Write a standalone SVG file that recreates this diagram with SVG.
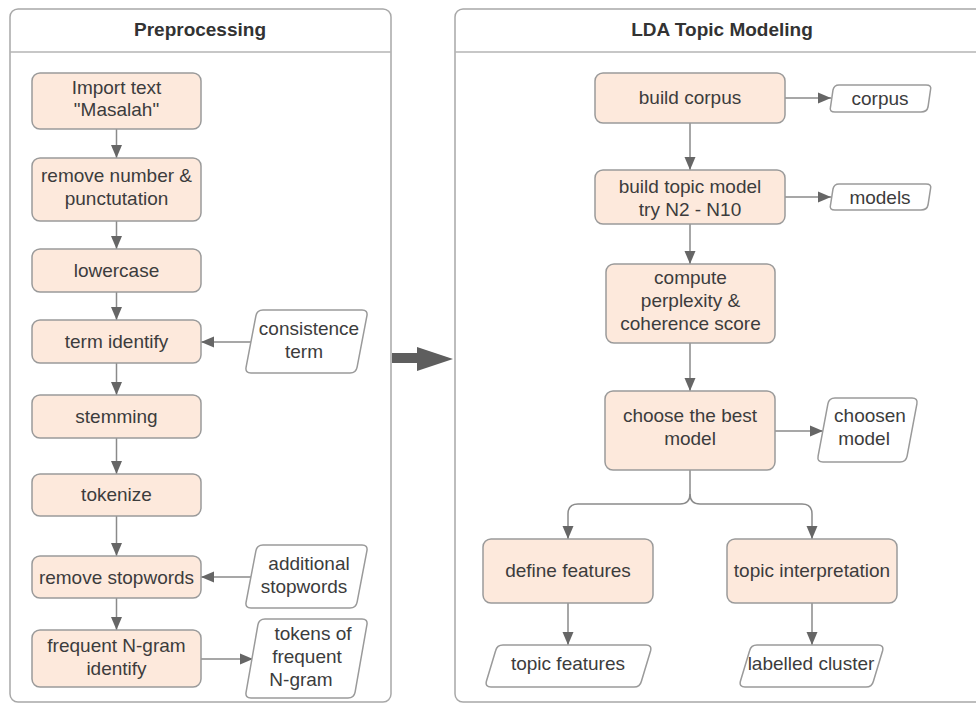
<svg xmlns="http://www.w3.org/2000/svg" width="976" height="704" viewBox="0 0 976 704">
<defs>
<style>
.panel{fill:#fff;stroke:#a8a8a8;stroke-width:1.5}
.hdr{stroke:#b4b4b4;stroke-width:1.5}
.title{font-family:"Liberation Sans",Arial,sans-serif;font-size:19px;font-weight:bold;fill:#333;text-anchor:middle}
.proc{fill:#fde9dc;stroke:#9a9a9a;stroke-width:1.5}
.data{fill:#fff;stroke:#9a9a9a;stroke-width:1.5}
.t{font-family:"Liberation Sans",Arial,sans-serif;font-size:19px;fill:#3c3c3c;text-anchor:middle}
.c{fill:none;stroke:#8a8a8a;stroke-width:1.5}
</style>
<marker id="ah" markerUnits="userSpaceOnUse" markerWidth="13" markerHeight="12" refX="13" refY="6" orient="auto">
<path d="M0,0.5 L13,6 L0,11.5 Z" fill="#666"/>
</marker>
</defs>
<rect width="976" height="704" fill="#fff"/>

<g id="panel-preprocessing">
<rect class="panel" x="10" y="9" width="381" height="693" rx="8"/>
<line class="hdr" x1="10" y1="52" x2="391" y2="52"/>
<text class="title" x="200" y="36">Preprocessing</text>
</g>
<g id="panel-lda">
<rect class="panel" x="455" y="9" width="540" height="693" rx="8"/>
<line class="hdr" x1="455" y1="52" x2="976" y2="52"/>
<text class="title" x="722" y="36">LDA Topic Modeling</text>
</g>

<g id="big-arrow">
<polygon points="392,353 417,353 417,347 453,359 417,371 417,363 392,363" fill="#5e5e5e"/>
</g>

<g id="connectors">
<line class="c" x1="116.5" y1="129" x2="116.5" y2="158" marker-end="url(#ah)"/>
<line class="c" x1="116.5" y1="221" x2="116.5" y2="249" marker-end="url(#ah)"/>
<line class="c" x1="116.5" y1="292" x2="116.5" y2="320" marker-end="url(#ah)"/>
<line class="c" x1="116.5" y1="363" x2="116.5" y2="395" marker-end="url(#ah)"/>
<line class="c" x1="116.5" y1="438" x2="116.5" y2="474" marker-end="url(#ah)"/>
<line class="c" x1="116.5" y1="516" x2="116.5" y2="556" marker-end="url(#ah)"/>
<line class="c" x1="116.5" y1="598" x2="116.5" y2="630" marker-end="url(#ah)"/>
<line class="c" x1="251" y1="342" x2="201" y2="342" marker-end="url(#ah)"/>
<line class="c" x1="251" y1="577" x2="201" y2="577" marker-end="url(#ah)"/>
<line class="c" x1="201" y1="659" x2="253" y2="659" marker-end="url(#ah)"/>

<line class="c" x1="785" y1="98" x2="831" y2="98" marker-end="url(#ah)"/>
<line class="c" x1="690" y1="123" x2="690" y2="170" marker-end="url(#ah)"/>
<line class="c" x1="785" y1="197" x2="831" y2="197" marker-end="url(#ah)"/>
<line class="c" x1="690" y1="224" x2="690" y2="264" marker-end="url(#ah)"/>
<line class="c" x1="690" y1="343" x2="690" y2="391" marker-end="url(#ah)"/>
<line class="c" x1="775" y1="431" x2="823" y2="431" marker-end="url(#ah)"/>
<path class="c" d="M690,470 V494 Q690,504 680,504 H578 Q568,504 568,514 V539" marker-end="url(#ah)"/>
<path class="c" d="M690,494 Q690,504 700,504 H802 Q812,504 812,514 V539" marker-end="url(#ah)"/>
<line class="c" x1="568" y1="603" x2="568" y2="645" marker-end="url(#ah)"/>
<line class="c" x1="812" y1="603" x2="812" y2="645" marker-end="url(#ah)"/>
</g>

<g id="n-import">
<rect class="proc" x="32" y="73" width="169" height="56" rx="8"/>
<text class="t" x="116.5" y="94">Import text</text>
<text class="t" x="116.5" y="116">"Masalah"</text>
</g>
<g id="n-remove-number">
<rect class="proc" x="32" y="158" width="169" height="63" rx="8"/>
<text class="t" x="116.5" y="182">remove number &amp;</text>
<text class="t" x="116.5" y="205">punctutation</text>
</g>
<g id="n-lowercase">
<rect class="proc" x="32" y="249" width="169" height="43" rx="8"/>
<text class="t" x="116.5" y="277">lowercase</text>
</g>
<g id="n-term-identify">
<rect class="proc" x="32" y="320" width="169" height="43" rx="8"/>
<text class="t" x="116.5" y="348">term identify</text>
</g>
<g id="n-stemming">
<rect class="proc" x="32" y="395" width="169" height="43" rx="8"/>
<text class="t" x="116.5" y="423">stemming</text>
</g>
<g id="n-tokenize">
<rect class="proc" x="32" y="474" width="169" height="42" rx="8"/>
<text class="t" x="116.5" y="501">tokenize</text>
</g>
<g id="n-remove-stopwords">
<rect class="proc" x="32" y="556" width="169" height="42" rx="8"/>
<text class="t" x="116.5" y="584">remove stopwords</text>
</g>
<g id="n-ngram">
<rect class="proc" x="32" y="630" width="169" height="57" rx="8"/>
<text class="t" x="116.5" y="652">frequent N-gram</text>
<text class="t" x="116.5" y="675">identify</text>
</g>

<g id="d-consistence">
<path class="data" d="M263,310 L362,310 Q368,310 366.9,315.9 L357.1,367.1 Q356,373 350,373 L251,373 Q245,373 246.1,367.1 L255.9,315.9 Q257,310 263,310 Z"/>
<text class="t" x="309" y="335">consistence</text>
<text class="t" x="304" y="358">term</text>
</g>
<g id="d-additional">
<path class="data" d="M263,545 L362,545 Q368,545 366.9,550.9 L357.1,602.1 Q356,608 350,608 L251,608 Q245,608 246.1,602.1 L255.9,550.9 Q257,545 263,545 Z"/>
<text class="t" x="309" y="570">additional</text>
<text class="t" x="304" y="593">stopwords</text>
</g>
<g id="d-tokens">
<path class="data" d="M265,619 L362,619 Q368,619 366.9,624.9 L355.1,692.1 Q354,698 348,698 L251,698 Q245,698 246.1,692.1 L257.9,624.9 Q259,619 265,619 Z"/>
<text class="t" x="313" y="640">tokens of</text>
<text class="t" x="307" y="663">frequent</text>
<text class="t" x="301" y="686">N-gram</text>
</g>

<g id="n-build-corpus">
<rect class="proc" x="595" y="73" width="190" height="50" rx="8"/>
<text class="t" x="690" y="104">build corpus</text>
</g>
<g id="d-corpus">
<path class="data" d="M839,85 L926,85 Q932,85 930.5,90 L928,107 Q927,112 921,112 L835,112 Q829,112 830.5,107 L833,90 Q834,85 839,85 Z"/>
<text class="t" x="880" y="105">corpus</text>
</g>
<g id="n-build-topic">
<rect class="proc" x="595" y="170" width="190" height="54" rx="8"/>
<text class="t" x="690" y="193">build topic model</text>
<text class="t" x="690" y="216">try N2 - N10</text>
</g>
<g id="d-models">
<path class="data" d="M839,184 L926,184 Q932,184 930.5,189 L928,205 Q927,210 921,210 L835,210 Q829,210 830.5,205 L833,189 Q834,184 839,184 Z"/>
<text class="t" x="880" y="204">models</text>
</g>
<g id="n-compute">
<rect class="proc" x="606" y="264" width="169" height="79" rx="8"/>
<text class="t" x="690.5" y="284">compute</text>
<text class="t" x="690.5" y="307">perplexity &amp;</text>
<text class="t" x="690.5" y="330">coherence score</text>
</g>
<g id="n-choose">
<rect class="proc" x="605" y="391" width="170" height="79" rx="8"/>
<text class="t" x="690" y="422">choose the best</text>
<text class="t" x="690" y="445">model</text>
</g>
<g id="d-choosen">
<path class="data" d="M835,398 L912,398 Q918,398 916.9,403.9 L907.1,456.1 Q906,462 900,462 L823,462 Q817,462 818.1,456.1 L827.9,403.9 Q829,398 835,398 Z"/>
<text class="t" x="870" y="422">choosen</text>
<text class="t" x="864" y="445">model</text>
</g>
<g id="n-define">
<rect class="proc" x="483" y="539" width="170" height="64" rx="8"/>
<text class="t" x="568" y="577">define features</text>
</g>
<g id="n-interpret">
<rect class="proc" x="727" y="539" width="170" height="64" rx="8"/>
<text class="t" x="812" y="577">topic interpretation</text>
</g>
<g id="d-topic-features">
<path class="data" d="M503,645 L646,645 Q652,645 650.6,650.8 L641.4,681.2 Q640,687 634,687 L491,687 Q485,687 486.4,681.2 L495.6,650.8 Q497,645 503,645 Z"/>
<text class="t" x="568" y="670">topic features</text>
</g>
<g id="d-labelled">
<path class="data" d="M757,645 L878,645 Q884,645 882.6,650.8 L873.4,681.2 Q872,687 866,687 L745,687 Q739,687 740.4,681.2 L749.6,650.8 Q751,645 757,645 Z"/>
<text class="t" x="811" y="670">labelled cluster</text>
</g>
</svg>
